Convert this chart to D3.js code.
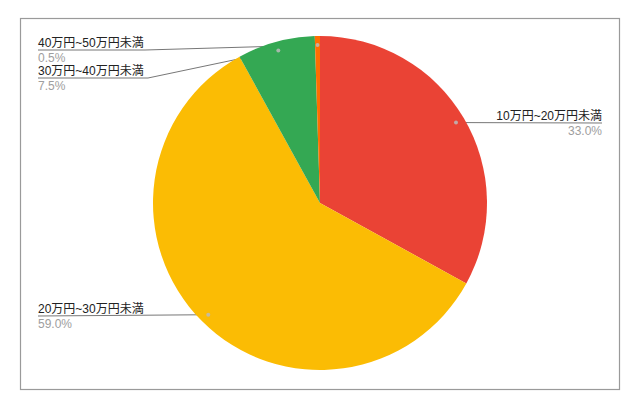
<!DOCTYPE html>
<html>
<head>
<meta charset="utf-8">
<script src="https://cdn.jsdelivr.net/npm/d3@7"></script>
<style>
  body { margin: 0; background: #fff; }
  text { font-family: "Liberation Sans", Arial, "Noto Sans CJK JP", sans-serif; }
</style>
</head>
<body>
<svg id="chart" width="642" height="410"></svg>
<script>
const categories = ['10万円~20万円未満', '20万円~30万円未満', '30万円~40万円未満', '40万円~50万円未満'];
const values = [33.0, 59.0, 7.5, 0.5];
const colors = ['#ea4335', '#fbbc04', '#34a853', '#ff6d01'];

const width = 642, height = 410;
const cx = 320, cy = 203, radius = 167;

// where each label's underline sits: side of the chart and y of the line
const labelSide = ['right', 'left', 'left', 'left'];
const labelLineY = [123, 316, 78, 50];
const labelBend = [null, null, 148, 145];
const leftX = 38, rightX = 602;

const svg = d3.select('#chart');

svg.append('rect')
    .attr('x', 20.5)
    .attr('y', 18.5)
    .attr('width', 599)
    .attr('height', 371)
    .attr('fill', 'none')
    .attr('stroke', '#9a9a9a')
    .attr('stroke-width', 1.2);

const slices = categories.map((c, i) => ({ name: c, value: values[i], color: colors[i], i }));
const pie = d3.pie().sort(null).value(d => d.value);
const arcs = pie(slices);

const arc = d3.arc().innerRadius(0).outerRadius(radius);
const dotArc = d3.arc().innerRadius(158).outerRadius(158);

const dots = arcs.map(a => {
    const [x, y] = dotArc.centroid(a);
    return { x: cx + x, y: cy + y };
});

// leader lines go under the pie
const lines = svg.append('g');
arcs.forEach((a, i) => {
    const d = dots[i];
    const ly = labelLineY[i];
    const p = d3.path();
    if (labelSide[i] === 'right') {
        p.moveTo(d.x, d.y);
        p.lineTo(rightX, ly);
    } else {
        p.moveTo(leftX, ly);
        if (labelBend[i] !== null) p.lineTo(labelBend[i], ly);
        p.lineTo(d.x, d.y);
    }
    lines.append('path')
        .attr('d', p.toString())
        .attr('fill', 'none')
        .attr('stroke', '#777')
        .attr('stroke-width', 1);
});

svg.append('g')
    .attr('transform', `translate(${cx},${cy})`)
    .selectAll('path')
    .data(arcs)
    .enter().append('path')
    .attr('d', arc)
    .attr('fill', d => d.data.color);

svg.append('g')
    .selectAll('circle')
    .data(dots)
    .enter().append('circle')
    .attr('cx', d => d.x)
    .attr('cy', d => d.y)
    .attr('r', 2)
    .attr('fill', '#bbb')
    .attr('fill-opacity', 0.85);

const fmt = d3.format('.1f');
arcs.forEach((a, i) => {
    const right = labelSide[i] === 'right';
    const x = right ? rightX : leftX;
    const anchor = right ? 'end' : 'start';
    svg.append('text')
        .attr('x', x)
        .attr('y', labelLineY[i] - 3.5)
        .attr('text-anchor', anchor)
        .attr('fill', '#222')
        .style('font-size', '12px')
        .text(a.data.name);
    svg.append('text')
        .attr('x', x)
        .attr('y', labelLineY[i] + 12)
        .attr('text-anchor', anchor)
        .attr('fill', '#9e9e9e')
        .style('font-size', '12px')
        .text(fmt(a.data.value) + '%');
});
</script>
</body>
</html>
